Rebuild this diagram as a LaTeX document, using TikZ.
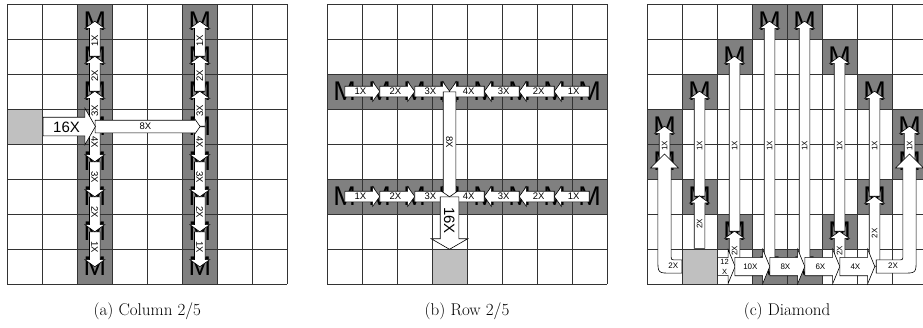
\documentclass[tikz,border=0pt]{standalone}
\usepackage{fontspec}
\usetikzlibrary{shapes.arrows}
\newfontfamily\arialfam{Liberation Sans}
\definecolor{mgray}{HTML}{808080}
\definecolor{srcgray}{HTML}{C0C0C0}
\definecolor{gridcol}{HTML}{333333}
\newcommand{\lblfont}{\arialfam\fontsize{9.5}{10}\selectfont}
\newcommand{\smlfont}{\arialfam\fontsize{8}{9}\selectfont}
\newcommand{\mfont}{\arialfam\fontsize{27}{27}\selectfont}
\newcommand{\bigfont}{\arialfam\fontsize{15}{16}\selectfont}
\newcommand{\twofont}{\arialfam\fontsize{7.5}{10}\selectfont}
\newcommand{\capfont}{\fontsize{17}{19}\selectfont}

\begin{document}
\begin{tikzpicture}[x=1pt, y=-1pt,
  gridline/.style={draw=gridcol, line width=0.7pt},
  cellbox/.style={rectangle, draw=gridcol, line width=0.7pt, minimum size=35pt, inner sep=0pt},
  mcell/.style={cellbox, fill=mgray, font=\mfont},
  srccell/.style={cellbox, fill=srcgray},
  blk/.style={single arrow, draw=black, fill=white, line width=0.6pt, minimum width=0pt, inner xsep=1pt, text depth=0pt, anchor=tail},
  sarr/.style={blk, font=\lblfont, text height=6.8pt, inner ysep=1.6pt, single arrow head extend=4.5pt, single arrow tip angle=108, minimum height=35pt},
  csarr/.style={sarr, font=\smlfont, text height=5.8pt, inner ysep=2.1pt},
  marr/.style={blk, font=\lblfont, text height=6.8pt, inner ysep=2.6pt, single arrow head extend=1.5pt, single arrow tip angle=110},
  barr/.style={blk, font=\bigfont, text height=11pt, inner ysep=3.5pt, single arrow head extend=9pt, single arrow tip angle=120},
  harr/.style={blk, font=\smlfont, text height=5.8pt, inner ysep=6pt, single arrow head extend=8pt, single arrow tip angle=135, minimum height=35pt},
  uarr/.style={draw=black, fill=white, line width=0.6pt},
  lbl/.style={font=\smlfont, inner sep=0pt},
  captext/.style={font=\capfont}
]
\useasboundingbox (0,0) rectangle (923,327);

% (a) Column 2/5
\begin{scope}[shift={(7.3,4)}, x=35pt, y=-35pt]
  \foreach \i in {0,...,8} {
    \draw[gridline] (\i,0) -- (\i,8);
    \draw[gridline] (0,\i) -- (8,\i);
  }
  \foreach \r in {0,...,7} {
    \node[mcell] (a-2-\r) at (2.5,\r+0.5) {M};
    \node[mcell] (a-5-\r) at (5.5,\r+0.5) {M};
  }
  \node[srccell] (a-src) at (0.5,3.5) {};
  \foreach \c in {2,5} {
    % upwards
    \foreach \r/\t in {1/1X,2/2X,3/3X}
      \node[sarr, rotate=90] (a-up-\c-\r) at (a-\c-\r) {\t};
    % downwards
    \foreach \r/\t in {6/1X,5/2X,4/3X,3/4X}
      \node[sarr, rotate=-90] (a-dn-\c-\r) at (a-\c-\r) {\t};
  }
  \node[marr, minimum height=105pt] (a-8x) at (a-2-3) {8X};
  \node[barr, minimum height=52.5pt] (a-16x) at (a-src.east) {16X};
\end{scope}

% (b) Row 2/5
\begin{scope}[shift={(327,4)}, x=35pt, y=-35pt]
  \foreach \i in {0,...,8} {
    \draw[gridline] (\i,0) -- (\i,8);
    \draw[gridline] (0,\i) -- (8,\i);
  }
  \foreach \c in {0,...,7} {
    \node[mcell] (b-\c-2) at (\c+0.5,2.5) {M};
    \node[mcell] (b-\c-5) at (\c+0.5,5.5) {M};
  }
  \node[srccell] (b-src) at (3.5,7.5) {};
  \foreach \r in {2,5} {
    \foreach \c/\t in {0/1X,1/2X,2/3X}
      \node[sarr] (b-rt-\c-\r) at (b-\c-\r) {\t};
    \foreach \c/\t in {7/1X,6/2X,5/3X,4/4X}
      \node[sarr, shape border rotate=180] (b-lt-\c-\r) at (b-\c-\r) {\t};
  }
  \node[barr, rotate=-90, minimum height=52.5pt] (b-16x) at (b-3-5) {16X};
  \node[marr, rotate=-90, minimum height=105pt] (b-8x) at (b-3-2) {8X};
\end{scope}

% (c) Diamond
\begin{scope}[shift={(647,4)}, x=35pt, y=-35pt]
  \foreach \i in {0,...,8} {
    \draw[gridline] (\i,0) -- (\i,8);
    \draw[gridline] (0,\i) -- (8,\i);
  }
  \foreach \c/\r in {3/0,4/0,2/1,5/1,1/2,6/2,0/3,7/3,0/4,7/4,1/5,6/5,2/6,5/6,3/7,4/7}
    \node[mcell] (c-\c-\r) at (\c+0.5,\r+0.5) {M};
  \node[srccell] (c-src) at (1.5,7.5) {};
  \foreach \c in {2,5,6}
    \coordinate (c-\c-7) at (\c+0.5,7.5);
  % long verticals
  \foreach \c/\r/\l in {0/4/35,1/5/105,2/6/175,3/7/245,4/7/245,5/6/175,6/5/105,7/4/35}
    \node[csarr, rotate=90, minimum height=\l*1pt] (c-up1-\c) at (c-\c-\r) {1X};
  \node[csarr, rotate=90, minimum height=52.5pt] (c-up2-1) at (c-src.north) {2X};
  \foreach \c/\l in {2/35,5/35,6/70}
    \node[csarr, rotate=90, minimum height=\l*1pt] (c-up2-\c) at (c-\c-7) {2X};
  % u-turns to the side columns
  \draw[uarr] (1,7.31) -- (0.81,7.31) .. controls (0.69,7.31) .. (0.69,7.19)
    -- (0.69,4.686) -- (0.9,4.686) -- (0.5,4.286) -- (0.1,4.686) -- (0.31,4.686)
    -- (0.31,7.29) .. controls (0.31,7.69) .. (0.71,7.69) -- (1,7.69) -- cycle;
  \draw[uarr] (6.55,7.31) -- (7.19,7.31) .. controls (7.31,7.31) .. (7.31,7.19)
    -- (7.31,4.686) -- (7.1,4.686) -- (7.5,4.286) -- (7.9,4.686) -- (7.69,4.686)
    -- (7.69,7.29) .. controls (7.69,7.69) .. (7.29,7.69) -- (6.55,7.69) -- cycle;
  \node[lbl] (c-ul) at (0.75,7.48) {2X};
  \node[lbl] (c-ur) at (7.03,7.48) {2X};
  % bottom row
  \node[harr, minimum height=17.5pt, font=\twofont, align=center, text height={}, text depth={}, inner ysep=1pt] (c-12x) at (c-src.east) {12\\X};
  \foreach \c/\t in {2/10X,3/8X,4/6X,5/4X}
    \node[harr] (c-rt-\c) at (c-\c-7) {\t};
\end{scope}

\node[captext] (cap-a) at (147.3,311) {(a) Column 2/5};
\node[captext] (cap-b) at (467,311) {(b) Row 2/5};
\node[captext] (cap-c) at (787,311) {(c) Diamond};
\end{tikzpicture}
\end{document}
